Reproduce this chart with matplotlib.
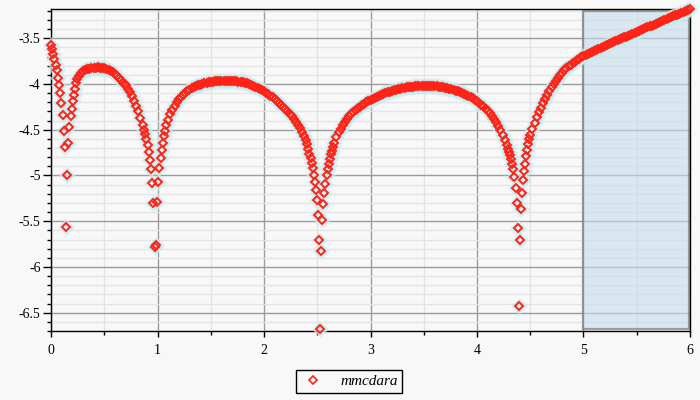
import matplotlib
matplotlib.use("Agg")
import matplotlib.pyplot as plt
from matplotlib.patches import Rectangle
from matplotlib.ticker import MultipleLocator, FuncFormatter
import numpy as np

# spacing of the samples on the smooth arcs
arc_step = 0.02

# first dip, read marker by marker
dip1_x = [0.000, 0.011, 0.022, 0.032, 0.043, 0.054, 0.065, 0.076, 0.086, 0.097,
          0.108, 0.119, 0.130, 0.140, 0.151, 0.162, 0.173, 0.184, 0.194, 0.205,
          0.216, 0.227, 0.238, 0.248]
dip1_y = [-3.57, -3.62, -3.67, -3.73, -3.79, -3.85, -3.93, -4.01, -4.10, -4.21,
          -4.34, -4.51, -4.69, -5.56, -5.00, -4.65, -4.47, -4.35, -4.27, -4.19,
          -4.12, -4.06, -3.99, -3.94]

arc1_start = 0.26
arc1_y = [-3.915, -3.88, -3.862, -3.848, -3.838, -3.831, -3.826, -3.822, -3.82, -3.819,
          -3.82, -3.823, -3.828, -3.835, -3.845, -3.858, -3.873, -3.89, -3.91, -3.933,
          -3.958, -3.985, -4.015, -4.05, -4.09, -4.135, -4.185, -4.24, -4.30, -4.37,
          -4.45]

dip2_x = [0.874, 0.885, 0.896, 0.907, 0.918, 0.929, 0.940, 0.951, 0.962, 0.973,
          0.984, 0.995, 1.006, 1.017, 1.028, 1.039, 1.050, 1.061, 1.072, 1.083]
dip2_y = [-4.50, -4.55, -4.60, -4.67, -4.74, -4.83, -4.93, -5.08, -5.30, -5.78,
          -5.76, -5.29, -5.07, -4.92, -4.81, -4.72, -4.64, -4.57, -4.51, -4.45]

arc2_start = 1.10
arc2_y = [-4.39, -4.33, -4.28, -4.235, -4.195, -4.165, -4.14, -4.115, -4.095, -4.077,
          -4.062, -4.049, -4.037, -4.026, -4.016, -4.007, -3.999, -3.992, -3.986, -3.981,
          -3.977, -3.973, -3.970, -3.967, -3.965, -3.963, -3.962, -3.962, -3.962, -3.963,
          -3.965, -3.967, -3.970, -3.974, -3.978, -3.983, -3.988, -3.994, -4.001, -4.009,
          -4.018, -4.028, -4.039, -4.051, -4.064, -4.078, -4.093, -4.109, -4.126, -4.144,
          -4.163, -4.183, -4.204, -4.226, -4.249, -4.273, -4.298, -4.325, -4.353, -4.383,
          -4.415, -4.449, -4.486, -4.526, -4.57]

dip3_x = [2.397, 2.407, 2.417, 2.427, 2.437, 2.447, 2.457, 2.467, 2.477, 2.487,
          2.497, 2.507, 2.517, 2.527, 2.537, 2.547, 2.557, 2.567, 2.577, 2.587,
          2.597, 2.607, 2.617, 2.627, 2.637, 2.647]
dip3_y = [-4.615, -4.66, -4.71, -4.76, -4.81, -4.86, -4.92, -4.99, -5.07, -5.16,
          -5.27, -5.43, -5.71, -6.68, -5.82, -5.49, -5.31, -5.19, -5.09, -5.00,
          -4.93, -4.87, -4.82, -4.77, -4.73, -4.69]

arc3_start = 2.66
arc3_y = [-4.64, -4.58, -4.53, -4.49, -4.45, -4.415, -4.385, -4.355, -4.328, -4.305,
          -4.284, -4.265, -4.247, -4.23, -4.214, -4.199, -4.185, -4.172, -4.16, -4.149,
          -4.138, -4.128, -4.118, -4.109, -4.10, -4.092, -4.084, -4.077, -4.07, -4.064,
          -4.058, -4.052, -4.047, -4.042, -4.038, -4.034, -4.031, -4.028, -4.026, -4.024,
          -4.022, -4.021, -4.02, -4.02, -4.02, -4.021, -4.022, -4.024, -4.026, -4.029,
          -4.032, -4.036, -4.04, -4.045, -4.051, -4.057, -4.064, -4.071, -4.079, -4.088,
          -4.097, -4.107, -4.118, -4.13, -4.143, -4.157, -4.172, -4.188, -4.205, -4.224,
          -4.245, -4.268, -4.293, -4.32, -4.35, -4.383, -4.42, -4.46, -4.505, -4.555,
          -4.61, -4.67]

dip4_x = [4.292, 4.302, 4.312, 4.322, 4.332, 4.342, 4.352, 4.362, 4.372, 4.382,
          4.392, 4.402, 4.412, 4.422, 4.432, 4.442, 4.452, 4.462, 4.472, 4.482,
          4.492, 4.502]
dip4_y = [-4.71, -4.745, -4.78, -4.82, -4.87, -4.93, -5.02, -5.14, -5.30, -5.57,
          -6.43, -5.71, -5.37, -5.19, -5.05, -4.95, -4.87, -4.79, -4.72, -4.66,
          -4.605, -4.555]

arc4_start = 4.52
arc4_y = [-4.49, -4.425, -4.365, -4.31, -4.26, -4.21, -4.163, -4.118, -4.076, -4.036,
          -3.999, -3.965, -3.933, -3.904, -3.877, -3.852, -3.829, -3.808, -3.789, -3.771,
          -3.755, -3.739, -3.724, -3.710, -3.697, -3.684, -3.672, -3.660, -3.648, -3.637,
          -3.626, -3.615, -3.604, -3.593, -3.582, -3.571, -3.561, -3.551, -3.541, -3.531,
          -3.521, -3.511, -3.501, -3.491, -3.481, -3.471, -3.461, -3.451, -3.441, -3.431,
          -3.421, -3.411, -3.401, -3.391, -3.381, -3.371, -3.361, -3.351, -3.341, -3.331,
          -3.321, -3.311, -3.301, -3.291, -3.281, -3.271, -3.261, -3.251, -3.241, -3.231,
          -3.221, -3.211, -3.201, -3.192, -3.183]

# highlighted window
box_x = (5.0, 6.0)
box_y = (-6.68, -3.20)

series_label = "mmcdara"


def arc_x(start, values):
    return list(np.round(start + arc_step * np.arange(len(values)), 3))


def build_curve():
    xs = (dip1_x + arc_x(arc1_start, arc1_y) + dip2_x + arc_x(arc2_start, arc2_y)
          + dip3_x + arc_x(arc3_start, arc3_y) + dip4_x + arc_x(arc4_start, arc4_y))
    ys = dip1_y + arc1_y + dip2_y + arc2_y + dip3_y + arc3_y + dip4_y + arc4_y
    return np.array(xs), np.array(ys)


def setup_axis(ax):
    ax.set_facecolor("#f8f8f8")
    ax.set_xlim(0, 6)
    ax.set_ylim(-6.70, -3.18)
    ax.xaxis.set_major_locator(MultipleLocator(1))
    ax.xaxis.set_minor_locator(MultipleLocator(0.5))
    ax.yaxis.set_major_locator(MultipleLocator(0.5))
    ax.yaxis.set_minor_locator(MultipleLocator(0.1))
    ax.xaxis.set_major_formatter(FuncFormatter(lambda v, p: "%g" % v))
    ax.yaxis.set_major_formatter(FuncFormatter(lambda v, p: "%g" % v))
    ax.grid(visible=True, which="minor", color="#e4e4e4", linewidth=1)
    ax.grid(visible=True, which="major", color="#9c9c9c", linewidth=1)
    ax.set_axisbelow(True)
    ax.tick_params(which="both", direction="out", top=False, right=False,
                   color="black", width=1, labelsize=10)
    ax.tick_params(axis="y", which="major", length=6, pad=1.5)
    ax.tick_params(axis="y", which="minor", length=3)
    ax.tick_params(axis="x", which="major", length=4, pad=5)
    ax.tick_params(axis="x", which="minor", length=3)
    for s in ax.spines.values():
        s.set_color("black")
        s.set_linewidth(1)


if __name__ == '__main__':
    plt.rcParams.update({
        "font.family": ["Liberation Serif", "DejaVu Serif"],
        "axes.unicode_minus": False,
    })

    fig = plt.figure(figsize=(7, 4), dpi=100, facecolor="#f8f8f8")
    ax = fig.add_axes([0.0729, 0.1725, 0.9128, 0.805])
    setup_axis(ax)

    x, y = build_curve()

    ax.add_patch(Rectangle((box_x[0], box_y[0]), box_x[1] - box_x[0] - 0.005,
                           box_y[1] - box_y[0], facecolor="#c4dcec", alpha=0.6,
                           edgecolor="#6a6a6a", linewidth=1.6, zorder=2))

    # pale halo behind the markers
    ax.plot(x, y, linestyle="none", marker="D", markersize=6.0,
            markerfacecolor="#dff4f6", markeredgecolor="#c6ecf1",
            markeredgewidth=2.4, alpha=0.7, clip_on=False, zorder=3)
    ax.plot(x, y, linestyle="none", marker="D", markersize=4.3,
            markerfacecolor="none", markeredgecolor="#ff2216",
            markeredgewidth=1.4, clip_on=False, zorder=4, label=series_label)

    leg = fig.legend(loc="center", bbox_to_anchor=(0.499, 0.046), numpoints=1,
                     prop={"family": "Liberation Serif", "style": "italic", "size": 11},
                     fancybox=False, framealpha=1, facecolor="#f8f8f8",
                     edgecolor="black", handlelength=1.6, handletextpad=1.0,
                     borderpad=0.3, borderaxespad=0)
    leg.get_frame().set_linewidth(1)
    for h in leg.legend_handles:
        h.set_markersize(4.0)
        h.set_markeredgewidth(1.2)

    fig.savefig("out.png", dpi=100, facecolor=fig.get_facecolor())
